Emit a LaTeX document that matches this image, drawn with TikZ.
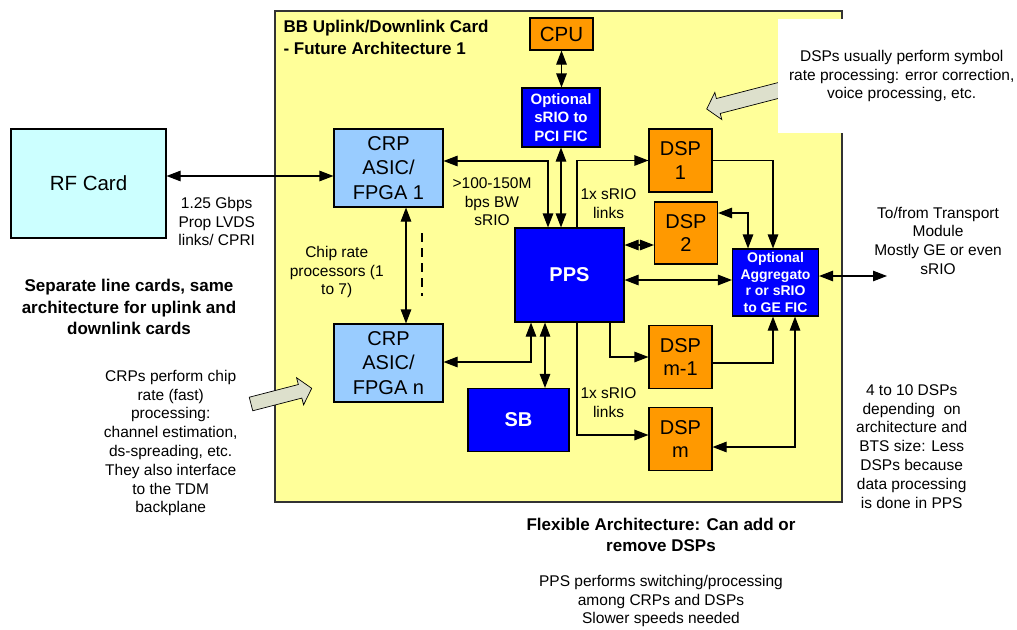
\documentclass[tikz,border=0pt]{standalone}
\usepackage{fontspec}
\setmainfont{Liberation Sans}
\usetikzlibrary{arrows.meta}
\definecolor{cardyellow}{RGB}{255,255,153}
\definecolor{crpblue}{RGB}{153,204,255}
\definecolor{rfcyan}{RGB}{204,255,255}
\definecolor{dsporange}{RGB}{255,153,0}
\definecolor{ficblue}{RGB}{0,0,255}
\definecolor{calloutgray}{RGB}{221,224,204}
\begin{document}
\begin{tikzpicture}[x=1pt,y=-1pt,>={Triangle[length=14pt,width=10.5pt]},
  every path/.style={line width=1.1pt},
  crpbox/.style={draw,fill=crpblue,minimum width=109,minimum height=78,inner sep=0,align=center,font=\fontsize{20}{24.5}\selectfont},
  dspbox/.style={draw,fill=dsporange,minimum width=63,minimum height=63,inner sep=0,align=center,font=\fontsize{20}{23.5}\selectfont},
  ficbox/.style={draw,fill=ficblue,text=white,inner sep=0,align=center,font=\bfseries\fontsize{15}{18.5}\selectfont},
  note/.style={inner sep=0,align=center,font=\fontsize{15.5}{18.8}\selectfont},
  boldnote/.style={inner sep=0,align=center,font=\bfseries\fontsize{17}{21.3}\selectfont},
  callout/.style={draw,line width=0.7pt,fill=calloutgray}]
\useasboundingbox (0,0) rectangle (1017,629);

% the card
\draw[fill=cardyellow,draw=black!80] (275,11) rectangle (842,502);
\node[boldnote,align=left,anchor=north west] (title) at (283,20) {BB Uplink/Downlink Card\\- Future Architecture 1};

% blocks
\node[draw,fill=rfcyan,minimum width=155,minimum height=109,font=\fontsize{20.5}{24}\selectfont] (rf) at (88.5,183.5) {RF Card};
\node[crpbox] (crp1) at (388.5,168) {CRP\\ASIC/\\FPGA 1};
\node[crpbox] (crpn) at (388.5,363) {CRP\\ASIC/\\FPGA n};
\node[draw,fill=dsporange,minimum width=63,minimum height=32,inner sep=0,font=\fontsize{20.5}{24}\selectfont] (cpu) at (561.5,34) {CPU};
\node[ficbox,minimum width=78,minimum height=59] (pcific) at (561,117.5) {Optional\\sRIO to\\PCI FIC};
\node[ficbox,minimum width=109,minimum height=94,font=\bfseries\fontsize{20}{24}\selectfont] (pps) at (569.5,275) {PPS};
\node[ficbox,minimum width=101,minimum height=63,font=\bfseries\fontsize{20}{24}\selectfont] (sb) at (518.5,420) {SB};
\node[dspbox] (dsp1) at (680.5,160.5) {DSP\\1};
\node[dspbox,minimum height=62] (dsp2) at (686,233) {DSP\\2};
\node[dspbox] (dspm1) at (680.5,357) {DSP\\m-1};
\node[dspbox] (dspm) at (680.5,439) {DSP\\m};
\node[ficbox,minimum width=86,minimum height=67,font=\bfseries\fontsize{14}{16.5}\selectfont] (agg) at (775.5,282.5) {Optional\\Aggregato\\r or sRIO\\to GE FIC};
\coordinate (transport) at (887,276);

% links
\draw[<->] (rf.east |- 0,176) -- (crp1.west |- 0,176);
\draw[<->] (406,0 |- crp1.south) -- (406,0 |- crpn.north);
\draw[line width=1.4pt,dash pattern=on 9pt off 6pt] (422,233) -- (422,296);
\draw[<->] (cpu.south) -- (cpu.south |- pcific.north);
\draw[<->] (pcific.south) -- (pcific.south |- pps.north);
\draw[<->] (crp1.east |- 0,161) -| (548,0 |- pps.north);
\draw[<->] (crpn.east |- 0,362) -| (531,0 |- pps.south);
\draw[<->] (545,0 |- pps.south) -- (545,0 |- sb.north);
\draw[->] (577,0 |- pps.north) |- (dsp1.west);
\draw[<->] (pps.east |- 0,245) -- (dsp2.west |- 0,245);
\draw[<->] (pps.east |- 0,280) -- (agg.west |- 0,280);
\draw[->] (610,0 |- pps.south) |- (dspm1.west);
\draw[->] (577,0 |- pps.south) |- (dspm.west |- 0,435);
\draw[->] (dsp1.east) -| (773,0 |- agg.north);
\draw[<->] (dsp2.east |- 0,213) -| (748,0 |- agg.north);
\draw[->] (dspm1.east |- 0,363) -| (773,0 |- agg.south);
\draw[<->] (dspm.east |- 0,447) -| (795,0 |- agg.south);
\draw[<->] (agg.east |- transport) -- (transport);

% link labels
\node[note] (lvds) at (216.7,221.5) {1.25 Gbps\\Prop LVDS\\links/ CPRI};
\node[note] (bw) at (492,201.7) {>100-150M\\bps BW\\sRIO};
\node[note] (chiprate) at (336.7,272) {Chip rate\\processors (1\\to 7)};
\node[note] (srioup) at (608.5,203.3) {1x sRIO\\links};
\node[note] (sriodown) at (608.5,403) {1x sRIO\\links};
\node[note] (transtext) at (938,240.7) {To/from Transport\\Module\\Mostly GE or even\\sRIO};

% call-outs
\draw[callout,shift={(311.7,388.3)},rotate=14.5] (0,0) -- (-12,14) -- (-12,7) -- (-62.7,7) -- (-62.7,-7) -- (-12,-7) -- (-12,-14) -- cycle;
\draw[callout,shift={(706.7,109)},rotate=194.5] (0,0) -- (-12,14) -- (-12,7.7) -- (-100,7.7) -- (-100,-7.7) -- (-12,-7.7) -- (-12,-14) -- cycle;
\node[note,fill=white,minimum width=247,minimum height=113.4] (dsptext) at (901.7,76) {DSPs usually perform symbol\\rate processing: error correction,\\voice processing, etc.};
\node[note] (crptext) at (170.7,443) {CRPs perform chip\\rate (fast)\\processing:\\channel estimation,\\ds-spreading, etc.\\They also interface\\to the TDM\\backplane};

% remarks
\node[boldnote] (separate) at (129,307) {Separate line cards, same\\architecture for uplink and\\downlink cards};
\node[note] (dspcount) at (911.7,446.3) {4 to 10 DSPs\\depending\ \ on\\architecture and\\BTS size: Less\\DSPs because\\data processing\\is done in PPS};
\node[boldnote] (flexible) at (661,535) {Flexible Architecture: Can add or\\remove DSPs};
\node[note] (ppstext) at (661,601) {PPS performs switching/processing\\among CRPs and DSPs\\Slower speeds needed};
\end{tikzpicture}
\end{document}
